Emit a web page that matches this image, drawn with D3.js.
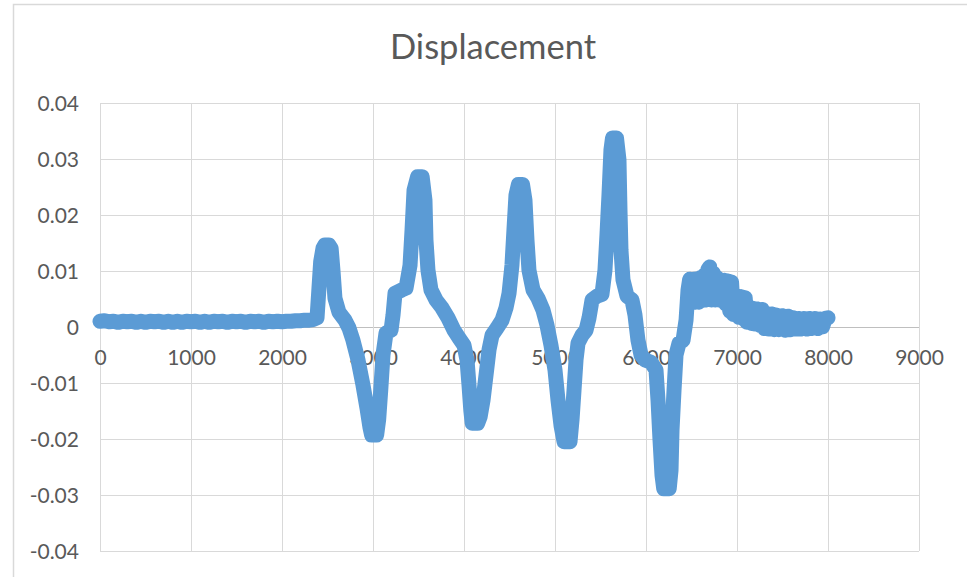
<!DOCTYPE html>
<html>
<head>
<meta charset="utf-8">
<script src="https://cdn.jsdelivr.net/npm/d3@7"></script>
<style>
  html, body { margin: 0; padding: 0; background: #ffffff; }
  svg { display: block; }
  text { font-family: Lato, "Open Sans", sans-serif; fill: #595959; }
</style>
</head>
<body>
<svg id="chart" width="967" height="577"></svg>
<script>
// Chart title
const chartTitle = "Displacement";

// Axis ticks
const xTicks = [0, 1000, 2000, 3000, 4000, 5000, 6000, 7000, 8000, 9000];
const xTickLabels = ["0", "1000", "2000", "3000", "4000", "5000", "6000", "7000", "8000", "9000"];
const yTicks = [0.04, 0.03, 0.02, 0.01, 0, -0.01, -0.02, -0.03, -0.04];
const yTickLabels = ["0.04", "0.03", "0.02", "0.01", "0", "-0.01", "-0.02", "-0.03", "-0.04"];

// Sample positions
const sampleX = [
  0, 50, 100, 150, 200, 250, 300, 350, 400, 450,
  500, 550, 600, 650, 700, 750, 800, 850, 900, 950,
  1000, 1050, 1100, 1150, 1200, 1250, 1300, 1350, 1400, 1450,
  1500, 1550, 1600, 1650, 1700, 1750, 1800, 1850, 1900, 1950,
  2000, 2050, 2100, 2150, 2200, 2250, 2300,
  2340, 2385, 2405, 2425, 2450, 2470, 2515, 2540, 2560, 2582, 2626,
  2692, 2736, 2780, 2835, 2890, 2934, 2967, 2985, 3040, 3062,
  3085, 3110, 3143, 3198, 3220, 3242, 3319, 3363, 3407, 3429,
  3451, 3490, 3540, 3571, 3582, 3604, 3637, 3692, 3758, 3824,
  3890, 3945, 4000, 4033, 4055, 4075, 4090, 4150, 4178, 4209,
  4242, 4275, 4308, 4363, 4418, 4462, 4495, 4527, 4549, 4571,
  4598, 4643, 4670, 4692, 4714, 4758, 4813, 4868, 4912, 4956,
  5000, 5033, 5066, 5100, 5165, 5187, 5209, 5231, 5253, 5297,
  5341, 5374, 5407, 5462, 5516, 5549, 5571, 5593, 5615, 5632,
  5676, 5703, 5714, 5725, 5747, 5791, 5846, 5879, 5912, 5945,
  5989, 6055, 6110, 6132, 6154, 6176, 6195, 6255, 6275, 6286,
  6308, 6330, 6363, 6407, 6440, 6462,
  6480, 6500, 6520, 6540, 6560, 6580, 6600, 6620, 6640, 6660,
  6680, 6700, 6720, 6740, 6760, 6780, 6800, 6820, 6840, 6860,
  6880, 6900, 6920, 6940, 6960, 6990, 7020, 7045, 7070, 7090,
  7110, 7135, 7160, 7180, 7200, 7225, 7250, 7275, 7300, 7325,
  7350, 7380, 7410, 7435, 7460, 7495, 7530, 7560, 7590, 7620,
  7650, 7675, 7700, 7735, 7770, 7795, 7820, 7855, 7890, 7915,
  7940, 7970, 8000
];

// Displacement at each sample
const displacement = [
  0.0010, 0.0011, 0.0009, 0.0010, 0.0008, 0.0010, 0.0009, 0.0010, 0.0008, 0.0010,
  0.0008, 0.0010, 0.0009, 0.0010, 0.0008, 0.0010, 0.0008, 0.0010, 0.0008, 0.0010,
  0.0009, 0.0010, 0.0008, 0.0010, 0.0008, 0.0010, 0.0009, 0.0010, 0.0008, 0.0010,
  0.0009, 0.0010, 0.0008, 0.0010, 0.0009, 0.0010, 0.0008, 0.0010, 0.0009, 0.0010,
  0.0009, 0.0010, 0.0010, 0.0011, 0.0011, 0.0012, 0.0012,
  0.0013, 0.0016, 0.0066, 0.0116, 0.0140, 0.0146, 0.0146, 0.0140, 0.0101, 0.0051, 0.0026,
  0.0012, -0.0002, -0.0024, -0.0059, -0.0104, -0.0145, -0.0180, -0.0193, -0.0193, -0.0166,
  -0.0113, -0.0050, -0.0011, -0.0006, 0.0021, 0.0060, 0.0066, 0.0069, 0.0110, 0.0173,
  0.0244, 0.0268, 0.0268, 0.0226, 0.0155, 0.0101, 0.0066, 0.0048, 0.0034, 0.0016,
  -0.0006, -0.0020, -0.0033, -0.0059, -0.0104, -0.0149, -0.0172, -0.0172, -0.0160, -0.0131,
  -0.0086, -0.0041, -0.0015, -0.0002, 0.0012, 0.0034, 0.0060, 0.0110, 0.0173, 0.0235,
  0.0254, 0.0254, 0.0226, 0.0155, 0.0101, 0.0066, 0.0051, 0.0030, 0.0003, -0.0033,
  -0.0077, -0.0131, -0.0176, -0.0205, -0.0205, -0.0166, -0.0113, -0.0059, -0.0029, -0.0015,
  -0.0006, 0.0016, 0.0048, 0.0055, 0.0058, 0.0101, 0.0164, 0.0235, 0.0316, 0.0337,
  0.0337, 0.0298, 0.0209, 0.0137, 0.0084, 0.0055, 0.0048, 0.0021, -0.0024, -0.0050,
  -0.0059, -0.0063, -0.0077, -0.0131, -0.0202, -0.0265, -0.0289, -0.0289, -0.0256, -0.0184,
  -0.0113, -0.0050, -0.0029, -0.0024, 0.0012, 0.0066,
  0.0085, 0.0044, 0.0085, 0.0044, 0.0086, 0.0044, 0.0088, 0.0047, 0.0092, 0.0048,
  0.0102, 0.0107, 0.0048, 0.0096, 0.0048, 0.0088, 0.0048, 0.0083, 0.0046, 0.0083,
  0.0040, 0.0082, 0.0028, 0.0080, 0.0022, 0.0055, 0.0017, 0.0054, 0.0014, 0.0052,
  0.0008, 0.0033, 0.0006, 0.0033, 0.0005, 0.0032, 0.0003, 0.0031, -0.0003, 0.0024,
  -0.0004, 0.0023, -0.0005, 0.0021, -0.0005, 0.0020, -0.0006, 0.0019, -0.0005, 0.0016,
  -0.0004, 0.0015, -0.0004, 0.0015, -0.0004, 0.0015, -0.0003, 0.0015, -0.0003, 0.0014,
  0.0000, 0.0015, 0.0016
];

const svg = d3.select("#chart");

// Chart frame
svg.append("rect")
  .attr("x", 13.5).attr("y", 4.5)
  .attr("width", 1000).attr("height", 1000)
  .attr("fill", "#ffffff")
  .attr("stroke", "#d9d9d9")
  .attr("stroke-width", 1.5);

const plot = { left: 100, right: 919, top: 102.7, bottom: 551 };

const x = d3.scaleLinear().domain([0, 9000]).range([plot.left, plot.right]);
const y = d3.scaleLinear().domain([-0.04, 0.04]).range([plot.bottom, plot.top]);

// Gridlines
const grid = svg.append("g").attr("shape-rendering", "crispEdges");
grid.selectAll("line.h").data(yTicks).join("line")
  .attr("class", "h")
  .attr("x1", plot.left).attr("x2", plot.right)
  .attr("y1", d => Math.round(y(d)) + 0.5).attr("y2", d => Math.round(y(d)) + 0.5)
  .attr("stroke", d => d === 0 ? "#bfbfbf" : "#d9d9d9")
  .attr("stroke-width", 1.3);
grid.selectAll("line.v").data(xTicks).join("line")
  .attr("class", "v")
  .attr("x1", d => Math.round(x(d)) + 0.5).attr("x2", d => Math.round(x(d)) + 0.5)
  .attr("y1", plot.top).attr("y2", plot.bottom)
  .attr("stroke", "#d9d9d9")
  .attr("stroke-width", 1.3);

// Horizontal axis labels sit just under the zero line
const xAxis = d3.axisBottom(x)
  .tickValues(xTicks)
  .tickFormat((d, i) => xTickLabels[i])
  .tickSize(0)
  .tickPadding(0);
const gx = svg.append("g")
  .attr("transform", `translate(0,${y(0)})`)
  .call(xAxis);
gx.select(".domain").remove();
gx.selectAll("text")
  .attr("y", 0)
  .attr("dy", 0)
  .attr("transform", "translate(0,38)")
  .attr("font-family", "Lato, sans-serif")
  .attr("font-size", 21)
  .attr("fill", "#595959");

// Vertical axis labels
const yAxis = d3.axisLeft(y)
  .tickValues(yTicks)
  .tickFormat((d, i) => yTickLabels[i])
  .tickSize(0)
  .tickPadding(0);
const gy = svg.append("g")
  .attr("transform", "translate(79,0)")
  .call(yAxis);
gy.select(".domain").remove();
gy.selectAll("text")
  .attr("x", 0)
  .attr("dy", "0.36em")
  .attr("font-family", "Lato, sans-serif")
  .attr("font-size", 21)
  .attr("fill", "#595959");

// Displacement trace
const points = sampleX.map((sx, i) => [sx, displacement[i]]);
const line = d3.line().x(d => x(d[0])).y(d => y(d[1]));
svg.append("path")
  .datum(points)
  .attr("d", line)
  .attr("fill", "none")
  .attr("stroke", "#5b9bd5")
  .attr("stroke-width", 15)
  .attr("stroke-linejoin", "round")
  .attr("stroke-linecap", "round");

// Title
svg.append("text")
  .attr("x", 493)
  .attr("y", 59)
  .attr("text-anchor", "middle")
  .attr("font-family", "Lato, sans-serif")
  .attr("font-size", 34.5)
  .attr("fill", "#595959")
  .text(chartTitle);
</script>
</body>
</html>
